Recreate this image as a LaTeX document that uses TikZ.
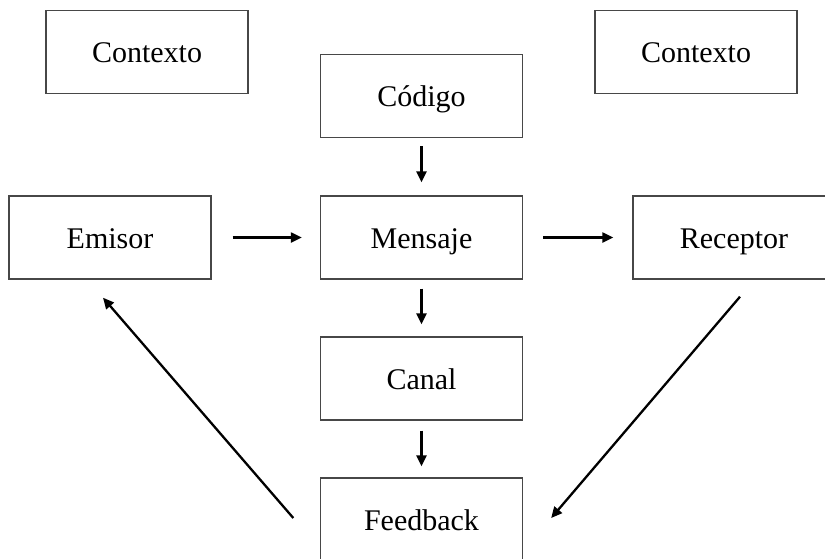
\documentclass[tikz,border=0pt]{standalone}
\usepackage{fontspec}
\setmainfont{Liberation Serif}
\usetikzlibrary{arrows.meta,calc}
\begin{document}
\begin{tikzpicture}[x=1pt,y=-1pt,
  box/.style={draw=black!72,line width=1.4pt,minimum width=202pt,minimum height=83pt,inner sep=0pt,
    text height=24pt,text depth=3pt,font=\fontsize{30}{36}\selectfont},
  arr/.style={line width=2.3pt,-{Triangle[length=11pt,width=10pt]}}]
\useasboundingbox (0,0) rectangle (825,558);
\clip (0,0) rectangle (825,558);
\node[box] (ctxL) at (147,52) {Contexto};
\node[box] (codigo) at (421.5,96) {Código};
\node[box] (ctxR) at (696,52) {Contexto};
\node[box] (emisor) at (110,237.5) {Emisor};
\node[box] (mensaje) at (421.5,237.5) {Mensaje};
\node[box] (receptor) at (734,237.5) {Receptor};
\node[box] (canal) at (421.5,378.5) {Canal};
\node[box] (feedback) at (421.5,519.5) {Feedback};
\draw[arr,shorten <=21pt,shorten >=18pt] (emisor) -- (mensaje);
\draw[arr,shorten <=20pt,shorten >=19pt] (mensaje) -- (receptor);
\draw[arr,shorten <=8pt,shorten >=13pt] (codigo) -- (mensaje);
\draw[arr,shorten <=9pt,shorten >=12pt] (mensaje) -- (canal);
\draw[arr,shorten <=10pt,shorten >=11pt] (canal) -- (feedback);
\coordinate (r1) at ($(receptor.south)+(6,17)$);
\coordinate (f1) at ($(feedback.east)+(28,-1.5)$);
\draw[arr] (r1) -- (f1);
\coordinate (f2) at ($(feedback.west)+(-26.5,-1.5)$);
\coordinate (e1) at ($(emisor.south)+(-7,18)$);
\draw[arr] (f2) -- (e1);
\end{tikzpicture}
\end{document}
